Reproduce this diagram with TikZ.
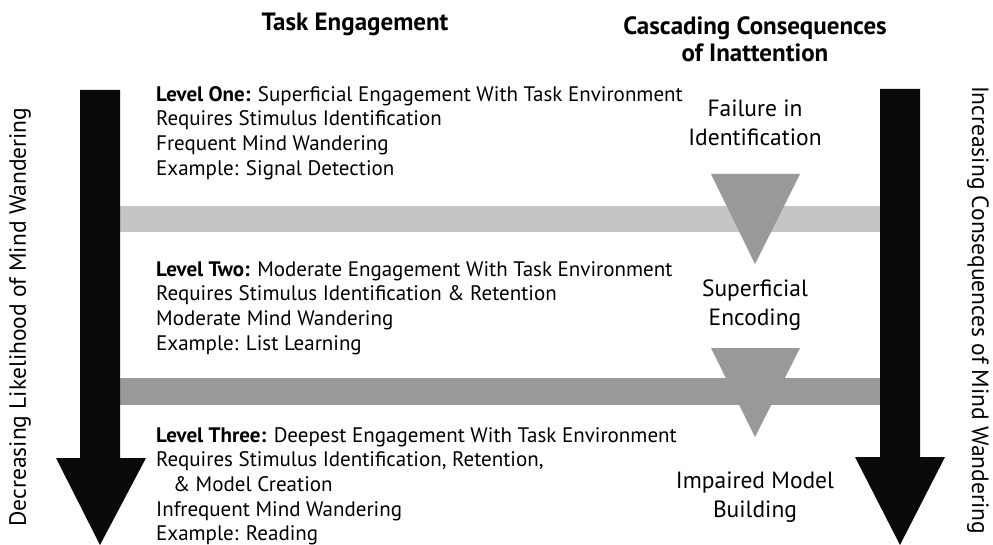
\documentclass[tikz,border=0pt]{standalone}
\usepackage{fontspec}
\setmainfont{PT Sans}
\definecolor{lightband}{HTML}{C4C6C4}
\definecolor{darkband}{HTML}{999999}
\definecolor{arrowblack}{HTML}{0A0A0A}
\begin{document}
\begin{tikzpicture}[x=1pt,y=-1pt,
  levelbox/.style={anchor=north west,inner sep=0pt,align=left,font=\fontsize{21}{24.7}\selectfont},
  conseq/.style={inner sep=0pt,align=center,font=\fontsize{23.5}{28.5}\selectfont},
  heading/.style={inner sep=0pt,align=center,font=\bfseries\fontsize{25}{27}\selectfont},
  sidelabel/.style={inner sep=0pt,font=\fontsize{23.5}{24}\selectfont}]
\useasboundingbox (0,0) rectangle (993,545);
% bands
\fill[lightband] (120,206) rectangle (880,232);
\fill[darkband] (120,378) rectangle (880,405);
% triangles
\fill[darkband] (711,174) -- (800,174) -- (755,264) -- cycle;
\fill[darkband] (711,348) -- (800,348) -- (755,437) -- cycle;
% big arrows
\fill[arrowblack] (80,90) -- (120,90) -- (120,458) -- (146,458) -- (100,545) -- (56,458) -- (80,458) -- cycle;
\fill[arrowblack] (880,89) -- (920,89) -- (920,457) -- (945,457) -- (900,545) -- (855,457) -- (880,457) -- cycle;
% headings
\node[heading] (h1) at (355,24) {Task Engagement};
\node[heading] (h2) at (755,39) {Cascading Consequences\\of Inattention};
% level texts
\node[levelbox] (l1) at (156,86) {\textbf{Level One:} Superficial Engagement With Task Environment\\Requires Stimulus Identification\\Frequent Mind Wandering\\Example: Signal Detection};
\node[levelbox] (l2) at (156,261) {\textbf{Level Two:} Moderate Engagement With Task Environment\\Requires Stimulus Identification \& Retention\\Moderate Mind Wandering\\Example: List Learning};
\node[levelbox] (l3) at (156,427) {\textbf{Level Three:} Deepest Engagement With Task Environment\\Requires Stimulus Identification, Retention,\\\hspace{0.8em}\& Model Creation\\Infrequent Mind Wandering\\Example: Reading};
% consequences
\node[conseq] (c1) at (755,123) {Failure in\\Identification};
\node[conseq] (c2) at (755,305) {Superficial\\Encoding};
\node[conseq] (c3) at (755,497) {Impaired Model\\Building};
% side labels
\node[sidelabel,rotate=90] (sl) at (20,317) {Decreasing Likelihood of Mind Wandering};
\node[sidelabel,rotate=-90] (sr) at (978,310) {Increasing Consequences of Mind Wandering};
\end{tikzpicture}
\end{document}
